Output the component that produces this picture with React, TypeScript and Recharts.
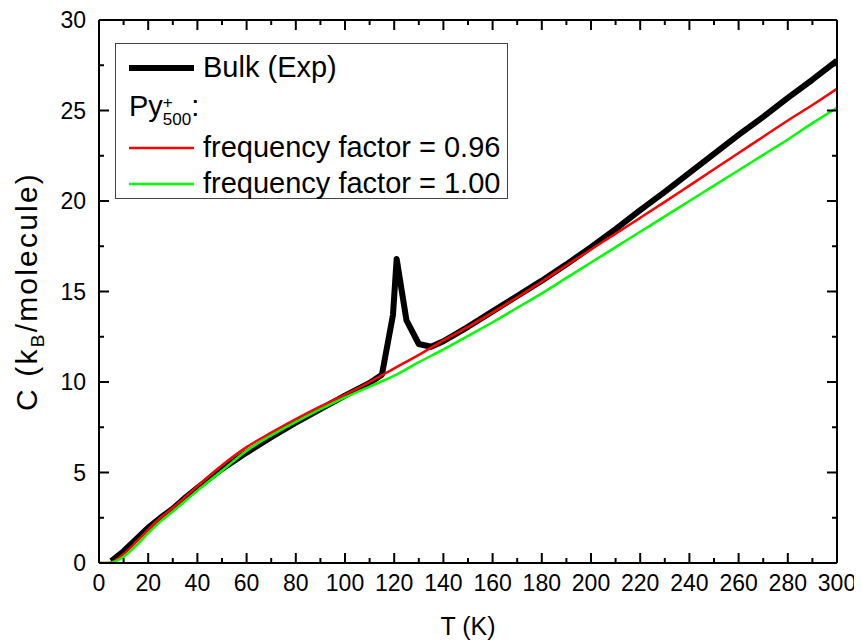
import React from "react";
import { Legend, Line, LineChart, XAxis, YAxis } from "recharts";

const FONT = '"Liberation Sans", Arial, sans-serif';

// temperature grid (K) used by both simulated curves
const simT = [0, 4, 10, 15, 20, 25, 30, 40, 50, 60, 70, 80, 90, 100, 110, 120, 130, 140, 150, 160, 170, 180, 190, 200, 210, 220, 230, 240, 250, 260, 270, 280, 290, 300];
// frequency factor = 0.96
const redC = [0, 0, 0.5, 1.15, 1.85, 2.5, 3.05, 4.25, 5.4, 6.4, 7.2, 7.95, 8.65, 9.3, 10.0, 10.75, 11.5, 12.3, 13.05, 13.85, 14.68, 15.55, 16.45, 17.32, 18.2, 19.07, 19.95, 20.85, 21.75, 22.65, 23.55, 24.45, 25.3, 26.2];
// frequency factor = 1.00
const greenC = [0, 0, 0.35, 0.95, 1.65, 2.3, 2.85, 4.0, 5.1, 6.2, 7.05, 7.8, 8.5, 9.15, 9.75, 10.35, 11.1, 11.8, 12.55, 13.3, 14.1, 14.9, 15.75, 16.6, 17.45, 18.3, 19.15, 20.0, 20.85, 21.7, 22.55, 23.4, 24.3, 25.15];

// bulk experiment
const bulkT = [5, 10, 15, 20, 25, 30, 35, 40, 50, 60, 70, 80, 90, 100, 110, 115, 119.5, 121, 125, 130, 135, 140, 150, 160, 170, 180, 190, 200, 210, 220, 230, 240, 250, 260, 270, 280, 290, 300];
const bulkC = [0.1, 0.65, 1.3, 1.95, 2.5, 3.0, 3.6, 4.15, 5.2, 6.1, 6.95, 7.75, 8.5, 9.25, 9.95, 10.4, 13.7, 16.8, 13.4, 12.1, 11.95, 12.25, 13.05, 13.9, 14.75, 15.6, 16.5, 17.45, 18.45, 19.5, 20.5, 21.55, 22.6, 23.65, 24.65, 25.7, 26.7, 27.75];

// every 10 K, labelled every 20 K; every 2.5, labelled every 5
const xTicks = [0, 10, 20, 30, 40, 50, 60, 70, 80, 90, 100, 110, 120, 130, 140, 150, 160, 170, 180, 190, 200, 210, 220, 230, 240, 250, 260, 270, 280, 290, 300];
const yTicks = [0, 2.5, 5, 7.5, 10, 12.5, 15, 17.5, 20, 22.5, 25, 27.5, 30];

const simData = simT.map((t, i) => ({ t, red: redC[i], green: greenC[i] }));
const bulkData = bulkT.map((t, i) => ({ t, c: bulkC[i] }));

const MAJOR = 10;
const MINOR = 5;
const X_GAP = 12;
const Y_GAP = 13;
const TICK_FS = 23;
const TICK_COLOR = "#000";
const frame = { stroke: "#000", strokeWidth: 2 };

// ticks point inward on all four sides
const BottomTick = (p: any) => {
  const v = p.payload.value;
  const major = v % 20 === 0;
  const ay = p.y - X_GAP;
  return (
    <g>
      <line x1={p.x} x2={p.x} y1={ay} y2={ay - (major ? MAJOR : MINOR)} stroke={TICK_COLOR} strokeWidth={2} />
      {major && (
        <text x={p.x} y={p.y} dy="0.71em" textAnchor="middle" fontSize={TICK_FS} fontFamily={FONT} fill="#000">
          {v}
        </text>
      )}
    </g>
  );
};

const TopTick = (p: any) => {
  const major = p.payload.value % 20 === 0;
  return <line x1={p.x} x2={p.x} y1={p.y} y2={p.y + (major ? MAJOR : MINOR)} stroke={TICK_COLOR} strokeWidth={2} />;
};

const LeftTick = (p: any) => {
  const v = p.payload.value;
  const major = v % 5 === 0;
  const ax = p.x + Y_GAP;
  return (
    <g>
      <line x1={ax} x2={ax + (major ? MAJOR : MINOR)} y1={p.y} y2={p.y} stroke={TICK_COLOR} strokeWidth={2} />
      {major && (
        <text x={p.x} y={p.y} dy="0.36em" textAnchor="end" fontSize={TICK_FS} fontFamily={FONT} fill="#000">
          {v}
        </text>
      )}
    </g>
  );
};

const RightTick = (p: any) => {
  const major = p.payload.value % 5 === 0;
  return <line x1={p.x} x2={p.x - (major ? MAJOR : MINOR)} y1={p.y} y2={p.y} stroke={TICK_COLOR} strokeWidth={2} />;
};

const YTitle = (p: any) => {
  const vb = p.viewBox;
  const cx = vb.x + 18;
  const cy = vb.y + vb.height / 2;
  return (
    <text transform={`rotate(-90, ${cx}, ${cy})`} x={cx} y={cy} dy="0.36em" textAnchor="middle" fontSize={30} letterSpacing={2.2} fontFamily={FONT} fill="#000">
      C (k<tspan fontSize={19} dy={7}>B</tspan>
      <tspan dy={-7}>/molecule)</tspan>
    </text>
  );
};

const Sample = ({ color, width }: { color: string; width: number }) => (
  <svg width={65} height={12} style={{ display: "block" }}>
    <line x1={0} x2={65} y1={6} y2={6} stroke={color} strokeWidth={width} />
  </svg>
);

const LegendBox = () => {
  const row = (top: number): React.CSSProperties => ({
    position: "absolute",
    left: 13,
    top,
    display: "flex",
    alignItems: "center",
    whiteSpace: "nowrap",
    lineHeight: 1,
  });
  return (
    <div style={{ position: "relative", width: 391, height: 154, border: "1px solid #444", background: "#fff", fontFamily: FONT, fontSize: 29, color: "#000" }}>
      <div style={row(9)}>
        <Sample color="#000" width={6} />
        <span style={{ marginLeft: 9 }}>Bulk (Exp)</span>
      </div>
      <div style={{ ...row(48), alignItems: "flex-end" }}>
        <span>Py</span>
        <span style={{ display: "inline-flex", flexDirection: "column", fontSize: 17, lineHeight: 1, marginBottom: -7 }}>
          <span>+</span>
          <span>500</span>
        </span>
        <span>:</span>
      </div>
      <div style={row(89)}>
        <Sample color="#ff0000" width={2.5} />
        <span style={{ marginLeft: 9 }}>frequency factor = 0.96</span>
      </div>
      <div style={row(125)}>
        <Sample color="#00ff00" width={2.5} />
        <span style={{ marginLeft: 9 }}>frequency factor = 1.00</span>
      </div>
    </div>
  );
};

export default function App() {
  return (
    <LineChart width={854} height={636} margin={{ top: 11, right: 24, bottom: 0, left: 0 }}>
      <XAxis
        xAxisId="b"
        dataKey="t"
        type="number"
        domain={[0, 300]}
        allowDataOverflow
        ticks={xTicks}
        interval={0}
        height={81}
        tickLine={false}
        tickSize={0}
        tickMargin={X_GAP}
        tick={<BottomTick />}
        axisLine={frame}
        label={{ value: "T (K)", position: "insideBottom", offset: 9, fontSize: 25, fontFamily: FONT, fill: "#000" }}
      />
      <XAxis
        xAxisId="t"
        orientation="top"
        dataKey="t"
        type="number"
        domain={[0, 300]}
        allowDataOverflow
        ticks={xTicks}
        interval={0}
        height={1}
        tickLine={false}
        tickSize={0}
        tickMargin={0}
        tick={<TopTick />}
        axisLine={frame}
      />
      <YAxis
        yAxisId="l"
        type="number"
        domain={[0, 30]}
        allowDataOverflow
        ticks={yTicks}
        interval={0}
        width={91}
        tickLine={false}
        tickSize={0}
        tickMargin={Y_GAP}
        tick={<LeftTick />}
        axisLine={frame}
        label={<YTitle />}
      />
      <YAxis
        yAxisId="r"
        orientation="right"
        type="number"
        domain={[0, 30]}
        allowDataOverflow
        ticks={yTicks}
        interval={0}
        width={1}
        tickLine={false}
        tickSize={0}
        tickMargin={0}
        tick={<RightTick />}
        axisLine={frame}
      />
      <Line xAxisId="b" yAxisId="l" data={bulkData} dataKey="c" type="linear" stroke="#000" strokeWidth={6} strokeLinejoin="round" dot={false} activeDot={false} isAnimationActive={false} />
      <Line xAxisId="b" yAxisId="l" data={simData} dataKey="red" type="monotone" stroke="#ff0000" strokeWidth={2.5} dot={false} activeDot={false} isAnimationActive={false} />
      <Line xAxisId="b" yAxisId="l" data={simData} dataKey="green" type="monotone" stroke="#00ff00" strokeWidth={2.5} dot={false} activeDot={false} isAnimationActive={false} />
      <Legend layout="vertical" align="center" verticalAlign="middle" wrapperStyle={{ left: 107, top: 35, width: "auto" }} content={<LegendBox />} />
    </LineChart>
  );
}
